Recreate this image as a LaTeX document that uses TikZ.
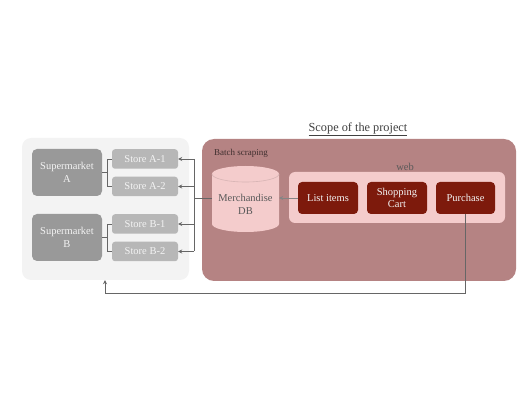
\documentclass[tikz,border=0pt]{standalone}
\usepackage{fontspec}
\setmainfont{Liberation Serif}
\usetikzlibrary{arrows.meta}
\definecolor{panelgrey}{HTML}{F3F3F3}
\definecolor{supgrey}{HTML}{999999}
\definecolor{storegrey}{HTML}{B7B7B7}
\definecolor{rosepanel}{HTML}{B58383}
\definecolor{lightpink}{HTML}{F4CCCC}
\definecolor{darkred}{HTML}{7D1A0C}
\definecolor{linegrey}{HTML}{666666}
\definecolor{txtwhite}{HTML}{F3F3F3}
\tikzset{
  supbox/.style={rectangle, rounded corners=5pt, fill=supgrey, text=txtwhite, align=center,
    minimum width=70pt, minimum height=47pt, font=\fontsize{10.5}{12.5}\selectfont, inner sep=0pt},
  storebox/.style={rectangle, rounded corners=3pt, fill=storegrey, text=txtwhite,
    minimum width=66pt, minimum height=19.5pt, font=\fontsize{10.5}{12}\selectfont, inner sep=0pt},
  webbtn/.style={rectangle, rounded corners=4pt, fill=darkred, text=txtwhite, align=center,
    minimum width=60pt, minimum height=32pt, font=\fontsize{10.5}{12}\selectfont, inner sep=0pt},
  conn/.style={draw=linegrey, line width=0.8pt},
  arr/.style={conn, -{Stealth[length=4pt,width=4pt]}},
}
\begin{document}
\begin{tikzpicture}[x=1pt,y=-1pt]
\useasboundingbox (0,0) rectangle (525,406);
% left panel
\node[rectangle, rounded corners=9pt, fill=panelgrey, minimum width=167pt, minimum height=142pt, inner sep=0pt] (leftpanel) at (105.5,209) {};
% right panel
\node[rectangle, rounded corners=12pt, fill=rosepanel, minimum width=314pt, minimum height=142pt, inner sep=0pt] (rightpanel) at (359,210) {};
\node[text=black!75, font=\fontsize{12.3}{14}\selectfont] (title) at (358,129) {\underline{Scope of the project}};
\node[anchor=west, text=black!65!rosepanel, font=\fontsize{9}{11}\selectfont, inner sep=0pt] (batch) at (214,153) {Batch scraping};
% web panel
\node[rectangle, rounded corners=6pt, fill=lightpink, minimum width=216pt, minimum height=51pt, inner sep=0pt] (webpanel) at (397,197.5) {};
\node[text=black!65, font=\fontsize{10.5}{12}\selectfont, inner sep=0pt] (weblabel) at (405,166.5) {web};
% buttons
\node[webbtn] (list) at (328,198) {List items};
\node[webbtn] (cart) at (397,198) {Shopping\\Cart};
\node[webbtn, minimum width=59pt] (purch) at (465.5,198) {Purchase};
% cylinder DB
\fill[lightpink] (212,174) -- (212,224) arc[start angle=180, end angle=0, x radius=33.5, y radius=8]
  -- (279,174) arc[start angle=0, end angle=-180, x radius=33.5, y radius=8] -- cycle;
\draw[draw=black!12!lightpink, line width=0.6pt] (212,174) arc[start angle=180, end angle=0, x radius=33.5, y radius=8];
\node[minimum width=67pt, minimum height=50pt, inner sep=0pt] (db) at (245.5,198) {};
\node[text=black!65, align=center, font=\fontsize{10.5}{13}\selectfont, inner sep=0pt] (dbtext) at (245.5,204) {Merchandise\\DB};
% supermarkets and stores
\node[supbox] (supA) at (67,172.5) {Supermarket\\A};
\node[supbox] (supB) at (67,237.5) {Supermarket\\B};
\node[storebox] (stA1) at (145,159) {Store A-1};
\node[storebox] (stA2) at (145,186.5) {Store A-2};
\node[storebox] (stB1) at (145,224) {Store B-1};
\node[storebox] (stB2) at (145,251.5) {Store B-2};
% brackets
\coordinate (bx) at (107,0);
\draw[conn] (stA1.west) -- (stA1.west -| bx) -- (stA2.west -| bx) -- (stA2.west);
\draw[conn] (supA.east) -- (supA.east -| bx);
\draw[conn] (stB1.west) -- (stB1.west -| bx) -- (stB2.west -| bx) -- (stB2.west);
\draw[conn] (supB.east) -- (supB.east -| bx);
% DB to stores
\coordinate (jx) at (194,0);
\draw[conn] (stA1.east -| jx) -- (stB2.east -| jx);
\draw[conn] (db.west) -- (db.west -| jx);
\foreach \s in {stA1,stA2,stB1,stB2} {
  \draw[arr] (\s.east -| jx) -- (\s.east);
}
% list items to DB
\draw[arr, draw=linegrey!80] (list.west) -- (db.east);
% purchase back to supermarkets
\coordinate (low) at (105,293);
\draw[arr] (purch.south) |- (low) -- (low |- leftpanel.south);
\end{tikzpicture}
\end{document}
